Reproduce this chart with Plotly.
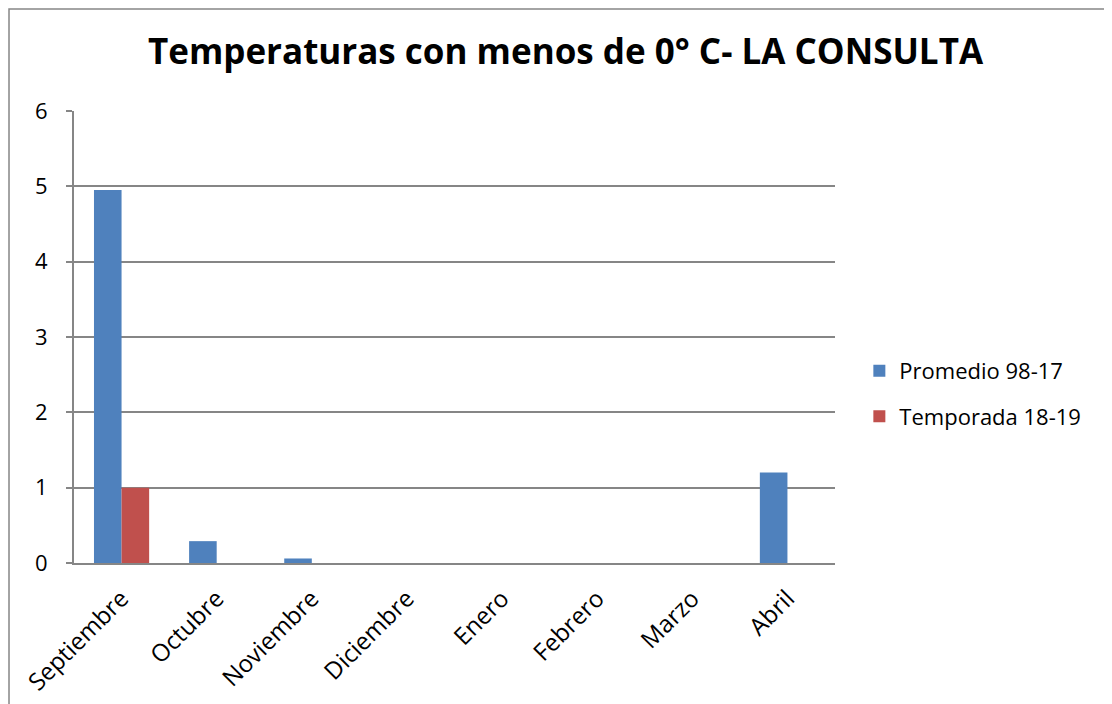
import plotly.graph_objects as go

meses = ["Septiembre", "Octubre", "Noviembre", "Diciembre", "Enero", "Febrero", "Marzo", "Abril"]
promedio = [4.95, 0.29, 0.06, 0, 0, 0, 0, 1.2]
temporada = [1, 0, 0, 0, 0, 0, 0, 0]

font_fam = "Open Sans, Liberation Sans, sans-serif"

fig = go.Figure()
fig.add_trace(go.Bar(x=meses, y=promedio, name="Promedio 98-17", legendgroup="a",
                     marker=dict(color="#4f81bd", line=dict(width=0))))
fig.add_trace(go.Bar(x=meses, y=temporada, name="Temporada 18-19", legendgroup="b",
                     marker=dict(color="#c0504d", line=dict(width=0))))

# page body adds 8px offset, so figure is 1104x696
fig.update_layout(
    width=1104, height=696,
    margin=dict(l=66, r=277, t=103, b=141),
    paper_bgcolor="white", plot_bgcolor="white",
    barmode="group", bargap=0.42, bargroupgap=0,
    font=dict(family=font_fam, size=22, color="black"),
    title=dict(text="<b>Temperaturas con menos de 0° C- LA CONSULTA</b>",
               x=0.505, xanchor="center", y=0.937, yanchor="middle",
               font=dict(size=35, family=font_fam)),
    legend=dict(x=1.032, y=0.374, xanchor="left", yanchor="middle",
                font=dict(size=22), tracegroupgap=14,
                bgcolor="rgba(0,0,0,0)"),
    showlegend=True,
)
fig.update_xaxes(showline=True, linecolor="#868686", linewidth=2, tickangle=-45,
                 ticks="", showgrid=False, tickfont=dict(size=24), ticklabelstandoff=10,
                 automargin=False)
fig.update_yaxes(range=[0, 6], dtick=1, showline=True, linecolor="#868686", linewidth=2,
                 showgrid=True, gridcolor="#868686", gridwidth=2, ticks="outside",
                 tickcolor="#868686", ticklen=6, tickwidth=2, zeroline=False,
                 tickfont=dict(size=22), ticklabelstandoff=14, automargin=False)

fig.add_shape(type="rect", xref="paper", yref="paper",
              x0=-0.0854, x1=1.5, y0=-0.4, y1=1.2257,
              line=dict(color="#868686", width=1.5), fillcolor="rgba(0,0,0,0)", layer="below")

fig.write_html("out.html")
